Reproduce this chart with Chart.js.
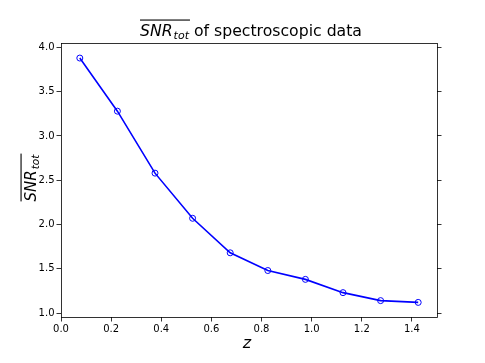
<!DOCTYPE html>
<html>
<head>
<meta charset="utf-8">
<script src="https://cdn.jsdelivr.net/npm/chart.js@4/dist/chart.umd.min.js"></script>
<style>
  body { margin: 0; background: #fff; }
  canvas { display: block; }
</style>
</head>
<body>
<canvas id="snrChart" width="485" height="363"></canvas>
<script>
const zValues = [0.075, 0.225, 0.375, 0.525, 0.675, 0.825, 0.975, 1.125, 1.275, 1.425];
const snrValues = [3.88, 3.28, 2.58, 2.07, 1.68, 1.48, 1.38, 1.23, 1.14, 1.12];
const xTickValues = [0.0, 0.2, 0.4, 0.6, 0.8, 1.0, 1.2, 1.4];
const yTickValues = [1.0, 1.5, 2.0, 2.5, 3.0, 3.5, 4.0];

const FONT = "'DejaVu Sans', sans-serif";

// draws the frame plus the math-style title and axis labels
const labelsPlugin = {
    id: "mplLabels",
    afterDraw(chart) {
        let ctx = chart.ctx;
        let area = chart.chartArea;
        let cx = (area.left + area.right) / 2;
        let cy = (area.top + area.bottom) / 2;

        ctx.save();
        ctx.strokeStyle = "#000";
        ctx.lineWidth = 0.8;
        ctx.strokeRect(Math.round(area.left) + 0.5, Math.round(area.top) + 0.5,
            Math.round(area.right - area.left), Math.round(area.bottom - area.top));

        ctx.fillStyle = "#000";
        ctx.textBaseline = "alphabetic";
        ctx.textAlign = "left";

        // title: overline SNR_tot + " of spectroscopic data"
        let big = 15.7, small = 11;
        ctx.font = "italic " + big + "px " + FONT;
        let wSNR = ctx.measureText("SNR").width;
        ctx.font = "italic " + small + "px " + FONT;
        let wTot = ctx.measureText("tot").width;
        ctx.font = big + "px " + FONT;
        let wRest = ctx.measureText(" of spectroscopic data").width;
        let total = wSNR + wTot + 1 + wRest;
        let x0 = cx - total / 2 + 2;
        let base = 36;
        ctx.font = "italic " + big + "px " + FONT;
        ctx.fillText("SNR", x0, base);
        ctx.font = "italic " + small + "px " + FONT;
        ctx.fillText("tot", x0 + wSNR + 1, base + 3);
        ctx.font = big + "px " + FONT;
        ctx.fillText(" of spectroscopic data", x0 + wSNR + wTot + 1, base);
        ctx.fillRect(x0, base - 16.5, wSNR + wTot + 2, 1.1);

        // y label, rotated
        ctx.save();
        let ys = 15, yss = 10.5;
        ctx.font = "italic " + ys + "px " + FONT;
        let lw1 = ctx.measureText("SNR").width;
        ctx.font = "italic " + yss + "px " + FONT;
        let lw2 = ctx.measureText("tot").width;
        let lw = lw1 + lw2 + 1;
        ctx.translate(36, cy - 2);
        ctx.rotate(-Math.PI / 2);
        let lx = -lw / 2;
        ctx.font = "italic " + ys + "px " + FONT;
        ctx.fillText("SNR", lx, 0);
        ctx.font = "italic " + yss + "px " + FONT;
        ctx.fillText("tot", lx + lw1 + 1, 3);
        ctx.fillRect(lx, -15.5, lw + 1, 1.1);
        ctx.restore();

        // x label
        ctx.font = "italic 16px " + FONT;
        ctx.textAlign = "center";
        ctx.fillText("z", cx - 2, 348);
        ctx.restore();
    }
};

const tickGrid = {
    display: true,
    drawOnChartArea: false,
    drawTicks: true,
    tickLength: 4.5,
    tickWidth: 0.8,
    tickColor: "#000"
};

let chartInstance = new Chart(document.getElementById("snrChart").getContext("2d"), {
    type: "line",
    data: {
        datasets: [{
            data: zValues.map((z, i) => ({ x: z, y: snrValues[i] })),
            borderColor: "#0000ff",
            borderWidth: 1.6,
            pointStyle: "circle",
            pointRadius: 3,
            pointBorderWidth: 1,
            pointBorderColor: "#0000ff",
            pointBackgroundColor: "rgba(0,0,0,0)",
            tension: 0
        }]
    },
    plugins: [labelsPlugin],
    options: {
        responsive: false,
        animation: false,
        layout: { padding: { top: 43, left: 0, right: 0, bottom: 0 } },
        plugins: {
            legend: { display: false },
            tooltip: { enabled: false },
            title: { display: false }
        },
        scales: {
            x: {
                type: "linear",
                min: 0,
                max: 1.5,
                afterBuildTicks: s => { s.ticks = xTickValues.map(v => ({ value: v })); },
                afterFit: s => { s.height = 46; },
                grid: tickGrid,
                border: { display: false },
                ticks: {
                    color: "#000",
                    padding: 2,
                    maxRotation: 0,
                    font: { family: FONT, size: 10 },
                    callback: v => v.toFixed(1)
                }
            },
            y: {
                type: "linear",
                position: "left",
                min: 0.955,
                max: 4.05,
                afterBuildTicks: s => { s.ticks = yTickValues.map(v => ({ value: v })); },
                afterFit: s => { s.width = 61; },
                grid: tickGrid,
                border: { display: false },
                ticks: {
                    color: "#000",
                    padding: 2,
                    font: { family: FONT, size: 10 },
                    callback: v => v.toFixed(1)
                }
            },
            y2: {
                type: "linear",
                position: "right",
                min: 0.955,
                max: 4.05,
                afterBuildTicks: s => { s.ticks = yTickValues.map(v => ({ value: v })); },
                afterFit: s => { s.width = 48; },
                grid: tickGrid,
                border: { display: false },
                ticks: { display: false }
            }
        }
    }
});
</script>
</body>
</html>
